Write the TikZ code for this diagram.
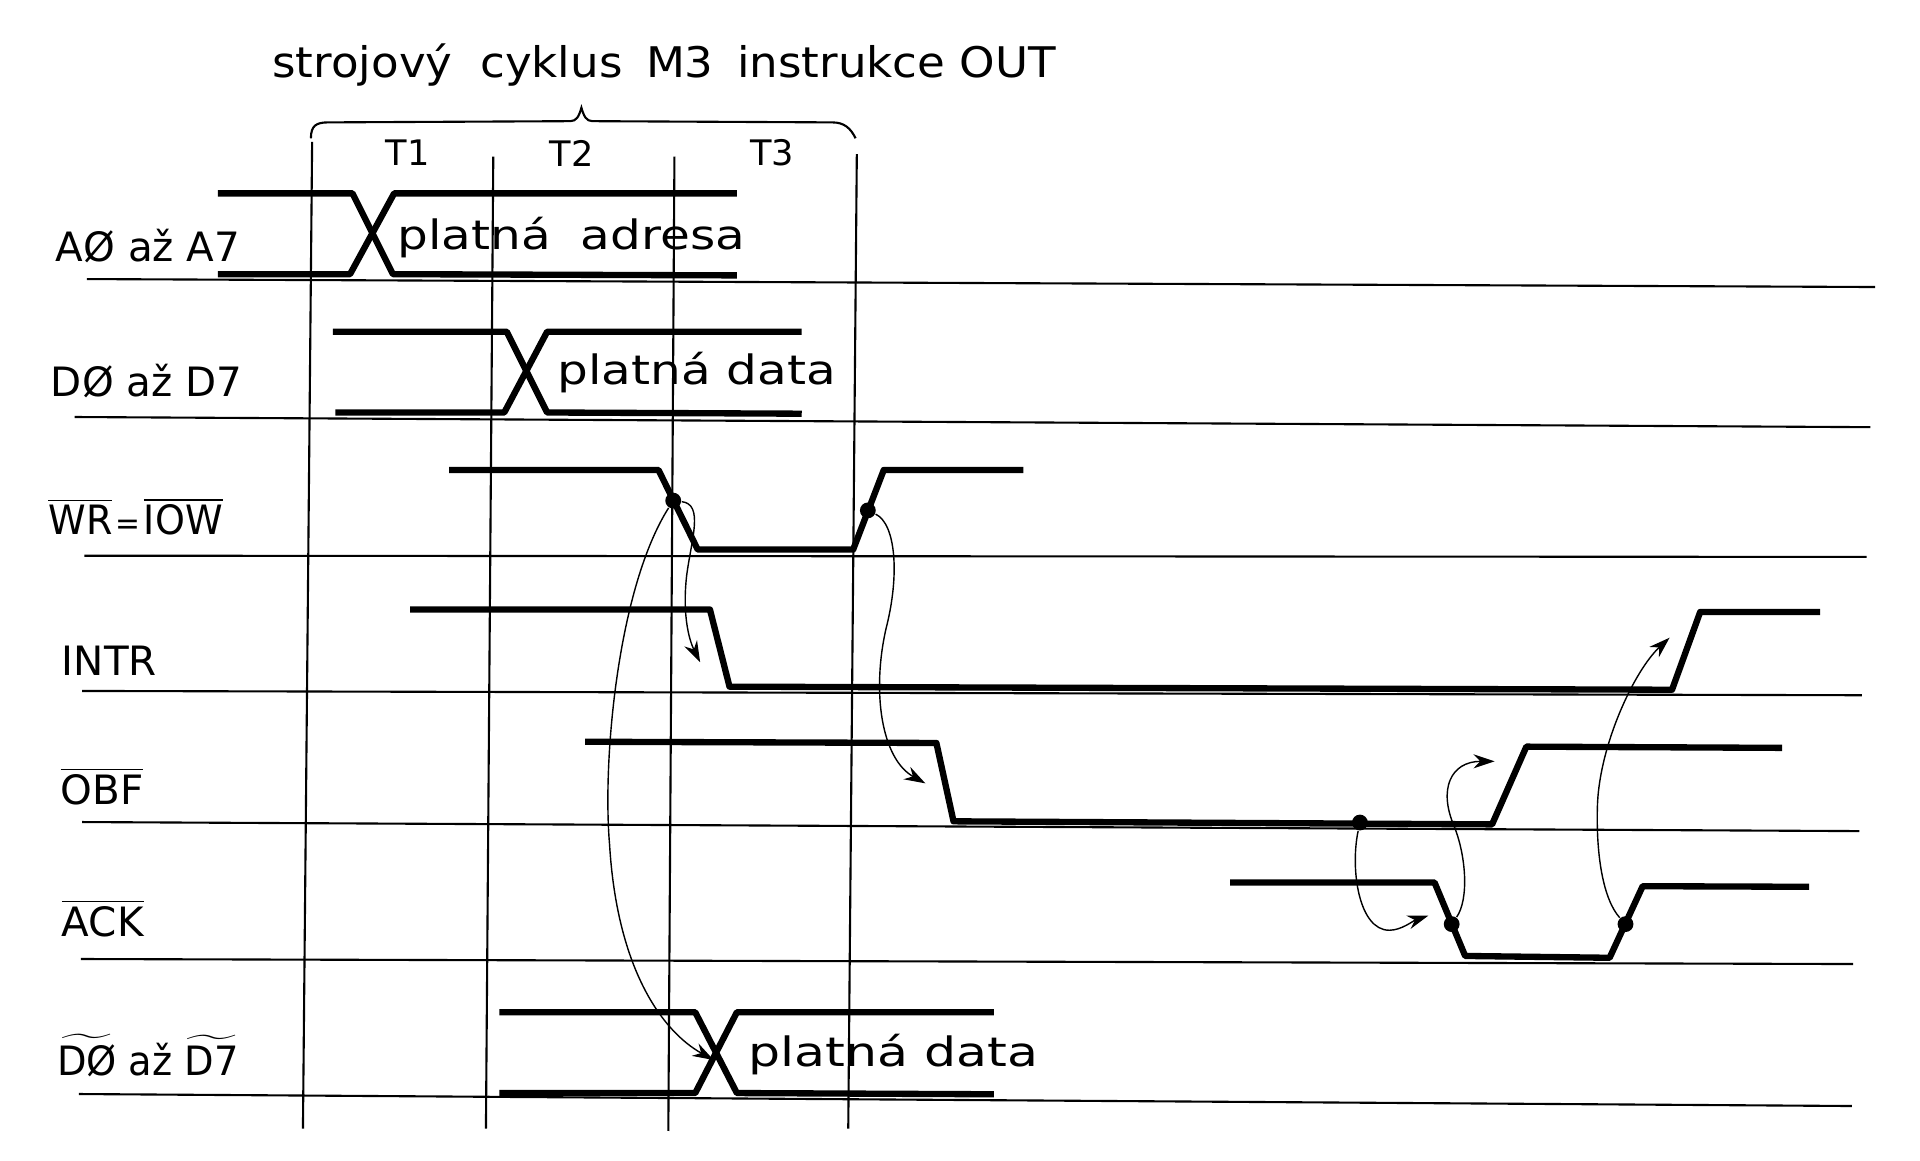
\documentclass[tikz,border=0pt]{standalone}
\usepackage{fontspec}
\setmainfont{DejaVu Sans}
\usepackage{graphicx}
\usepackage{tikz}
\usetikzlibrary{arrows.meta}

\newcommand{\handwide}[2]{\scalebox{#1}[1]{#2}}

\begin{document}
\begin{tikzpicture}[x=0.01224cm, y=-0.01224cm,
		wave/.style={line width=1.8pt, line join=round},
		rule/.style={line width=0.6pt},
		siglabel/.style={anchor=base west, inner sep=0pt, font=\fontsize{11.5}{12}\selectfont},
		datatext/.style={anchor=base west, inner sep=0pt, font=\fontsize{11.5}{12}\selectfont},
		dot/.style={circle, fill, inner sep=0pt, minimum size=4.5pt},
		link/.style={line width=0.4pt, -{Stealth[length=6pt, width=4pt]}}]

				\useasboundingbox (0,0) rectangle (1568.6,948.5);

				\node[anchor=base west, inner sep=0pt, font=\fontsize{12}{14}\selectfont] (title) at (222,63)
					{\handwide{1.07}{strojový\hspace{0.3em} cyklus\hspace{0.2em} M3\hspace{0.2em} instrukce OUT}};

				\draw[rule] (254,113) .. controls (254,103) and (258,100) .. (268,100) -- (466,99)
					.. controls (471,99) and (473,95) .. (475,88) .. controls (477,95) and (479,99) .. (484,99)
					-- (680,100) .. controls (690,100) and (695,105) .. (699,113);

				\node[font=\fontsize{10}{12}\selectfont] (t1) at (333,125) {T1};
				\node[font=\fontsize{10}{12}\selectfont] (t2) at (467,125) {T2};
				\node[font=\fontsize{10}{12}\selectfont] (t3) at (631,125) {T3};

				\draw[rule] (255,116) -- (247.5,922);
				\draw[rule] (403,128) -- (397,922);
				\draw[rule] (551,128) -- (546,924);
				\draw[rule] (700,126) -- (693,922);

				\draw[rule] (71,228)    -- (1532,234.5);
				\draw[rule] (61,340.7)  -- (1528,349);
				\draw[rule] (69,454)    -- (1525,455);
				\draw[rule] (67,564.5)  -- (1521,568);
				\draw[rule] (67,671.6)  -- (1519,679);
				\draw[rule] (66,783.5)  -- (1514,787.6);
				\draw[rule] (64.5,893.8) -- (1513,903.6);

				\node[siglabel] (addr) at (45,214) {AØ až A7};
				\node[siglabel] (data) at (41,324) {DØ až D7};
				\node[siglabel] (wr)   at (39,437) {\handwide{0.94}{$\overline{\mbox{WR}}$\hspace{1pt}{\fontsize{9}{10}\selectfont =}\hspace{1pt}$\overline{\mbox{IOW}}$}};
				\node[siglabel] (intr) at (50,552) {INTR};
				\node[siglabel] (obf)  at (49,657) {$\overline{\mbox{OBF}}$};
				\node[siglabel] (ack)  at (50,765) {$\overline{\mbox{ACK}}$};
				\node[siglabel] (port) at (46,879) {\handwide{0.95}{$\widetilde{\mbox{DØ}}$ až $\widetilde{\mbox{D7}}$}};

				\draw[wave] (178,158) -- (288,158) -- (321,224) -- (602,225);
				\draw[wave] (178,224) -- (286,224) -- (322,158) -- (602,158);
				\node[datatext] (addrok) at (324,204) {\handwide{1.2}{platná\hspace{0.3em} adresa}};

				\draw[wave] (272,271) -- (414,271) -- (447,337) -- (655,338);
				\draw[wave] (274,337) -- (412,337) -- (447,271) -- (655,271);
				\node[datatext] (dataok) at (455,314) {\handwide{1.2}{platná data}};

				\draw[wave] (367,384) -- (538,384) -- (570,449) -- (697,449) -- (722,384) -- (836,384);
				\draw[wave] (335,498) -- (580,498) -- (596,561) -- (1366,563.5) -- (1389,500) -- (1487,500);
				\draw[wave] (478,606) -- (765,607) -- (779,671) -- (1219,673.5) -- (1247,610) -- (1456,611);
				\draw[wave] (1005,721) -- (1172,721) -- (1197,781) -- (1315,782.5) -- (1342,724) -- (1478,724.5);

				\draw[wave] (408,827) -- (568,827) -- (602,893) -- (812,894);
				\draw[wave] (408,893) -- (568,893) -- (602,827) -- (812,827);
				\node[datatext] (portok) at (611,871) {\handwide{1.25}{platná data}};

				\node[dot] (wrfall) at (550,409) {};
				\node[dot] (wrrise) at (709,417) {};
				\node[dot] (obfdot) at (1111,672) {};
				\node[dot] (ackfall) at (1186,755) {};
				\node[dot] (ackrise) at (1328,755) {};

				\coordinate (porttip) at (583,866);
				\coordinate (intrtip) at (572,541);
				\coordinate (obftip) at (756,640);
				\coordinate (acktip) at (1167,748);
				\coordinate (obfrtip) at (1221,622);
				\coordinate (intrrtip) at (1364,521);

				\draw[link] (wrfall) .. controls (505,480) and (492,620) .. (498,690) .. controls (504,790) and (540,842) .. (porttip);
				\draw[link] (wrfall) .. controls (575,412) and (565,440) .. (561,470) .. controls (557,505) and (564,525) .. (intrtip);
				\draw[link] (wrrise) .. controls (732,428) and (735,470) .. (724,513) .. controls (712,565) and (720,620) .. (obftip);
				\draw[link] (obfdot) .. controls (1103,710) and (1110,760) .. (1135,760) .. controls (1145,760) and (1155,752) .. (acktip);
				\draw[link] (ackfall) .. controls (1200,735) and (1198,700) .. (1188,675) .. controls (1175,645) and (1185,622) .. (obfrtip);
				\draw[link] (ackrise) .. controls (1310,735) and (1304,700) .. (1305,660) .. controls (1306,610) and (1335,548) .. (intrrtip);

\end{tikzpicture}
\end{document}
